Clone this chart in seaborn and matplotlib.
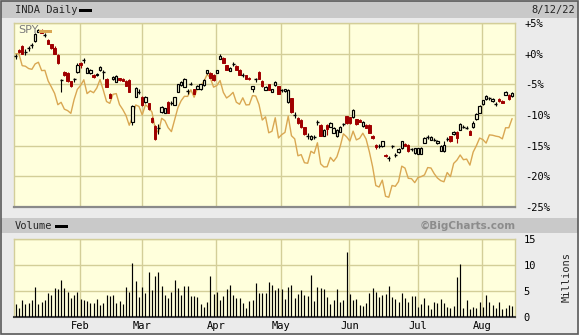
import matplotlib
matplotlib.use("Agg")
import matplotlib.pyplot as plt
import seaborn as sns
import pandas as pd
from matplotlib.patches import Rectangle

# ---------------- data (percent change vs first close) ----------------
inda_open = [-0.3, 0.6, 1.2, 0.3, 0.9, 1.4, 2.0, 3.6, 3.9, 3.1, 2.2, 1.5, 1.0, -0.2, -4.35, -3.0, -3.1, -4.5, -4.1, -3.0,
             -1.5, -1.1, -3.1, -3.2, -3.4, -3.5, -2.7, -3.0, -4.05, -6.5, -4.2, -4.6, -4.0, -4.05, -4.4, -4.3, -11.2, -7.0, -6.2,
             -7.0, -7.9, -8.1, -10.5, -11.8, -12.2, -9.5, -9.6, -7.8, -8.0, -8.3, -6.2, -5.1, -5.4, -6.1, -4.9, -5.8, -5.7, -5.8, -5.1, -3.2, -3.1, -3.4,
             -3.1, -0.8, -0.65, -1.9, -2.8, -1.7, -2.0, -2.6, -3.5, -3.5, -3.9, -5.7, -4.2, -3.0, -4.45, -5.95, -5.0, -6.2, -5.1, -5.3,
             -5.9, -6.1, -7.8, -7.3, -10.0, -10.5, -10.8, -12.0, -13.4, -13.9, -13.6, -11.1, -11.6, -13.35, -11.6, -11.9, -12.9, -13.5, -12.7, -11.5, -10.2,
             -10.4, -10.4, -10.7, -10.8, -11.8, -11.6, -11.6, -13.4, -14.9, -15.0, -15.1, -16.5, -17.0, -15.1, -16.5, -16.1, -15.4, -14.7, -14.85, -15.55, -16.2,
             -16.3, -16.3, -14.5, -13.6, -14.05, -14.05, -14.6, -15.8, -15.95, -13.9, -13.5, -13.1, -12.7, -12.4, -11.9, -12.05, -12.55, -12.0, -10.7, -9.6,
             -8.2, -7.45, -7.3, -7.7, -8.2, -7.35, -7.7, -6.75, -6.75, -6.9]
inda_high = [0.0, 0.8, 1.4, 0.7, 1.2, 1.7, 3.3, 4.1, 4.0, 3.4, 2.4, 1.6, 1.2, -0.1, -4.2, -2.8, -3.0, -4.4, -3.9, -1.6,
             -1.4, -0.7, -2.2, -2.5, -3.3, -3.2, -2.0, -2.7, -3.9, -6.4, -3.7, -3.5, -3.9, -4.0, -4.3, -4.2, -8.3, -5.5, -5.8,
             -6.9, -6.9, -8.0, -10.4, -11.6, -11.5, -8.5, -8.8, -7.7, -7.7, -7.0, -4.9, -4.5, -3.9, -5.8, -4.7, -5.7, -5.1, -4.9, -4.2, -2.6, -3.0, -3.3,
             -2.6, -0.1, -0.5, -1.8, -2.2, -1.4, -1.9, -2.5, -3.2, -3.4, -3.8, -5.2, -3.9, -2.9, -4.3, -5.3, -4.9, -5.7, -4.5, -5.2,
             -5.7, -5.7, -5.7, -7.2, -9.5, -10.4, -10.7, -11.9, -13.0, -13.2, -13.3, -10.8, -11.5, -12.3, -11.5, -11.2, -12.0, -12.3, -11.8, -11.3, -10.1,
             -10.3, -9.0, -10.6, -10.7, -11.0, -11.5, -11.5, -13.3, -14.8, -14.7, -14.2, -16.4, -16.7, -14.9, -16.2, -15.4, -14.2, -14.6, -14.7, -15.3, -15.3,
             -15.3, -15.2, -13.6, -13.3, -13.5, -13.8, -14.1, -14.9, -14.3, -13.6, -13.4, -12.6, -12.6, -11.3, -11.6, -11.8, -12.4, -10.9, -9.7, -8.4,
             -7.5, -6.8, -7.0, -7.3, -7.9, -7.2, -7.6, -6.1, -6.6, -6.3]
inda_low = [-0.9, 0.1, -0.1, -0.2, 0.5, 1.0, 1.9, 3.5, 3.3, 2.7, 1.5, 0.7, -0.1, -1.7, -6.2, -3.7, -4.6, -5.4, -4.6, -3.1,
            -2.4, -1.5, -3.2, -3.3, -3.9, -3.6, -2.8, -4.2, -5.5, -7.3, -4.3, -4.7, -4.4, -4.5, -5.3, -6.3, -11.6, -7.1, -6.6,
            -8.5, -8.0, -9.2, -11.3, -14.0, -13.1, -9.6, -9.7, -9.7, -8.3, -8.4, -6.3, -5.2, -5.5, -6.5, -5.1, -6.6, -5.8, -5.9, -5.2, -3.3, -4.0, -4.4,
            -3.2, -0.9, -1.6, -2.7, -2.9, -2.0, -2.7, -3.5, -3.8, -4.1, -4.3, -6.2, -4.6, -4.1, -5.4, -6.0, -6.0, -6.3, -5.2, -6.6,
            -6.3, -6.2, -8.1, -9.6, -10.5, -11.4, -12.1, -13.2, -13.9, -14.0, -13.9, -11.6, -13.5, -13.4, -13.2, -12.0, -13.0, -13.6, -12.8, -11.8, -11.4,
            -11.4, -10.5, -11.6, -11.2, -11.9, -12.2, -13.0, -13.9, -15.5, -15.3, -15.2, -16.9, -17.5, -15.4, -16.9, -16.2, -15.5, -15.1, -16.0, -15.8, -16.3,
            -16.4, -16.4, -14.6, -13.9, -14.1, -14.3, -14.7, -15.9, -16.0, -14.3, -14.4, -13.2, -14.6, -12.5, -12.2, -12.3, -13.3, -12.1, -10.8, -9.7,
            -8.3, -7.5, -7.6, -7.8, -8.5, -7.8, -8.1, -6.8, -7.5, -7.0]
inda_close = [-0.3, 0.3, 0.0, 0.3, 0.9, 1.4, 3.2, 3.9, 3.4, 3.1, 1.6, 0.9, 0.0, -1.6, -4.35, -3.5, -4.5, -5.3, -4.1, -1.8,
              -1.9, -1.1, -2.3, -2.6, -3.8, -3.3, -2.2, -3.0, -5.4, -7.2, -3.8, -3.6, -4.3, -4.4, -5.25, -6.2, -8.5, -5.6, -6.2,
              -8.3, -7.0, -9.1, -11.2, -13.9, -12.2, -8.65, -8.9, -9.6, -8.0, -7.1, -5.0, -4.6, -4.05, -6.1, -4.9, -6.5, -5.25, -5.0, -4.3, -2.7, -3.9, -4.3,
              -2.7, -0.3, -1.5, -2.6, -2.3, -1.7, -2.6, -3.4, -3.5, -4.05, -4.2, -5.3, -4.2, -4.05, -5.3, -5.4, -5.95, -5.8, -4.6, -6.5,
              -5.9, -5.8, -5.9, -9.5, -10.0, -11.35, -12.0, -13.1, -13.4, -13.35, -13.6, -11.1, -13.4, -12.4, -12.3, -11.35, -12.15, -12.4, -11.9, -11.5, -11.35,
              -11.35, -9.2, -11.5, -11.1, -11.1, -12.15, -12.9, -13.8, -15.2, -15.0, -14.3, -16.75, -17.0, -15.1, -16.5, -15.55, -14.3, -15.0, -15.95, -15.55, -15.4,
              -15.4, -15.3, -13.8, -13.6, -13.6, -14.05, -14.2, -15.0, -14.85, -13.9, -14.3, -12.7, -13.8, -11.45, -11.9, -12.05, -13.25, -11.25, -9.85, -8.5,
              -7.6, -6.9, -7.3, -7.45, -8.2, -7.7, -8.0, -6.2, -7.45, -6.4]
spy_pct = [0.0, -0.03, -1.95, -2.05, -2.43, -2.55, -1.67, -1.40, -2.76, -2.72, -4.44, -5.43, -6.48, -8.32, -7.93, -9.05, -9.28, -9.73, -7.49, -5.82,
           -5.18, -4.26, -6.51, -6.07, -6.37, -5.60, -4.22, -5.94, -7.80, -8.10, -6.62, -6.51, -8.30, -9.10, -10.08, -11.67, -10.34, -8.37, -8.60,
           -9.99, -8.33, -8.79, -9.53, -12.20, -12.87, -10.53, -10.93, -12.07, -12.71, -10.79, -8.81, -7.67, -6.95, -6.97, -5.89, -7.10, -5.70, -5.24, -4.56, -3.38, -3.98, -5.46,
           -5.19, -4.38, -6.31, -7.23, -6.84, -6.31, -7.91, -8.25, -7.20, -8.36, -8.32, -6.84, -6.91, -8.30, -10.82, -10.30, -12.90, -12.65, -10.45, -13.75,
           -13.20, -12.84, -10.18, -13.38, -13.89, -16.65, -16.46, -17.78, -17.87, -15.91, -16.25, -14.53, -17.97, -18.47, -18.44, -16.91, -17.55, -16.82, -15.16, -13.07, -13.56,
           -14.26, -12.63, -14.06, -13.80, -12.97, -13.92, -15.97, -18.40, -21.50, -21.74, -20.62, -23.25, -23.41, -21.49, -21.63, -20.86, -18.34, -18.66, -20.32, -20.38, -21.03,
           -20.19, -20.04, -19.77, -18.57, -18.64, -19.57, -20.28, -20.70, -20.89, -19.38, -20.05, -17.89, -17.36, -16.52, -17.29, -17.19, -18.17, -16.05, -15.00, -13.76,
           -14.01, -14.58, -13.24, -13.30, -13.45, -13.55, -13.89, -12.08, -12.08, -10.59]
volume_m = [2.5, 1.8, 3.3, 2.5, 2.7, 3.3, 5.8, 2.5, 2.9, 3.2, 4.7, 4.3, 5.6, 5.3, 7.2, 5.6, 4.9, 3.7, 4.3, 4.9,
            3.5, 3.3, 3.1, 2.7, 2.7, 3.5, 2.3, 2.7, 4.3, 4.1, 4.3, 2.7, 3.1, 2.5, 5.8, 4.9, 10.4, 6.9, 3.9,
            5.8, 4.7, 8.6, 5.1, 7.8, 8.6, 6.0, 4.3, 3.7, 4.9, 7.2, 5.5, 4.3, 6.0, 6.0, 4.1, 4.1, 3.9, 2.5, 2.0, 2.9, 7.8, 4.5,
            4.9, 3.3, 4.1, 5.3, 6.2, 4.3, 3.7, 3.7, 2.7, 1.8, 3.1, 3.3, 6.6, 4.7, 4.7, 4.7, 6.8, 6.2, 5.1, 5.6,
            5.3, 3.5, 5.8, 6.2, 3.7, 4.5, 5.1, 4.3, 4.1, 8.0, 3.1, 5.8, 5.5, 5.3, 3.9, 2.5, 3.3, 5.3, 2.9, 3.3, 12.5,
            4.5, 3.3, 3.5, 2.3, 2.1, 2.7, 4.7, 5.6, 4.9, 3.9, 4.3, 4.5, 6.0, 3.9, 3.5, 2.9, 4.7, 3.7, 2.9, 4.1, 4.1,
            1.9, 2.5, 3.7, 2.3, 1.6, 2.9, 2.7, 3.5, 2.7, 1.9, 1.8, 2.1, 7.6, 10.1, 1.8, 3.3, 1.6, 1.9, 1.8, 2.9,
            1.9, 4.3, 2.9, 2.3, 1.8, 2.9, 1.6, 1.8, 2.3, 2.1]
month_labels = ["Feb", "Mar", "Apr", "May", "Jun", "Jul", "Aug"]
month_start_idx = [20, 39, 62, 82, 103, 124, 144]
pct_ticks = [5, 0, -5, -10, -15, -20, -25]
pct_labels = ["+5%", "+0%", "-5%", "-10%", "-15%", "-20%", "-25%"]
vol_ticks = [0, 5, 10, 15]
vol_labels = ["0", "5", "10", "15"]

df = pd.DataFrame({"o": inda_open, "h": inda_high, "l": inda_low, "c": inda_close,
                   "spy": spy_pct, "vol": volume_m})
df["idx"] = range(len(df))

# ---------------- style ----------------
sns.set_style("white")
plt.rcParams["font.family"] = ["DejaVu Sans Mono"]
plt.rcParams["font.size"] = 7.5

BG = "#EBEBEB"
BAND = "#C9C9C9"
PLOT_BG = "#FFFFDC"
GRID = "#D3CE98"
RED = "#A00000"
SPY_C = "#D9A752"
W, H = 579, 335

def fx(x):
    return x / W

def fy(y):
    return 1 - y / H

fig = plt.figure(figsize=(W / 100, H / 100), dpi=100)
fig.patch.set_facecolor(BG)

# bands
fig.add_artist(Rectangle((fx(1), fy(18)), 577 / W, 17 / H, transform=fig.transFigure,
                         facecolor=BAND, edgecolor="none", zorder=0))
fig.add_artist(Rectangle((fx(1), fy(233)), 577 / W, 15 / H, transform=fig.transFigure,
                         facecolor=BAND, edgecolor="none", zorder=0))
fig.add_artist(Rectangle((0.001, 0.002), 0.997, 0.996, transform=fig.transFigure,
                         facecolor="none", edgecolor="#5A5A5A", lw=1.2, zorder=10))

ax = fig.add_axes([fx(14), fy(207), 501 / W, 184 / H])
axv = fig.add_axes([fx(14), fy(317), 501 / W, 78 / H])

xlim = (-0.52, 153.9)
for a in (ax, axv):
    a.set_facecolor(PLOT_BG)
    a.set_xlim(*xlim)
    a.set_axisbelow(True)
    a.grid(True, color=GRID, lw=1.0)
    a.set_xticks([m - 0.15 for m in month_start_idx])
    for s in ("top", "left", "right"):
        a.spines[s].set_color(GRID)
        a.spines[s].set_linewidth(1.0)

# ---- price panel ----
ax.set_ylim(-25, 5)
ax.set_yticks(pct_ticks)
ax.set_yticklabels(pct_labels)
ax.yaxis.set_ticks_position("right")
ax.tick_params(axis="y", length=0, pad=7, labelsize=7.5, colors="black")
ax.tick_params(axis="x", length=0, labelbottom=False)
ax.spines["bottom"].set_color("#8A8A8A")
ax.spines["bottom"].set_linewidth(1.6)

sns.lineplot(data=df, x="idx", y="spy", ax=ax, color=SPY_C, lw=1.0, zorder=2)
ax.set_xlabel("")
ax.set_ylabel("")

bw = 0.74
for r in df.itertuples():
    if r.c > r.o:
        ax.vlines(r.idx, r.l, r.h, color="black", lw=0.8, zorder=3)
        ax.add_patch(Rectangle((r.idx - bw / 2, r.o), bw, r.c - r.o, facecolor=PLOT_BG,
                               edgecolor="black", lw=0.85, zorder=4))
    elif r.c < r.o:
        ax.vlines(r.idx, r.l, r.h, color=RED, lw=0.8, zorder=3)
        ax.add_patch(Rectangle((r.idx - bw / 2, r.c), bw, r.o - r.c, facecolor=RED,
                               edgecolor=RED, lw=0.7, zorder=4))
    else:
        ax.vlines(r.idx, r.l, r.h, color="black", lw=0.8, zorder=3)
        ax.hlines(r.o, r.idx - bw / 2 - 0.1, r.idx + bw / 2 + 0.1, color="black", lw=1.0, zorder=4)

# SPY legend inside plot
ax.text(fx(18), fy(30), "SPY", transform=fig.transFigure, fontsize=8, color="#7A7A7A",
        family="DejaVu Sans", ha="left", va="center", zorder=6)
fig.add_artist(Rectangle((fx(39), fy(32.5)), 13 / W, 3 / H, transform=fig.transFigure,
                         facecolor=SPY_C, edgecolor="none", zorder=6))

# ---- volume panel ----
axv.set_ylim(0, 15)
axv.set_yticks(vol_ticks)
axv.set_yticklabels(vol_labels)
axv.yaxis.set_ticks_position("right")
axv.tick_params(axis="y", length=0, pad=6, labelsize=7.5, colors="black")
axv.set_xticklabels(month_labels)
axv.tick_params(axis="x", length=0, pad=3, labelsize=7.5, colors="black")
axv.spines["bottom"].set_color("#404040")
axv.spines["bottom"].set_linewidth(1.5)
axv.vlines(df["idx"], 0, df["vol"], color="black", lw=0.85, zorder=3)

# ---- header texts ----
fig.text(fx(15), fy(10), "INDA Daily", ha="left", va="center", fontsize=7.5)
fig.add_artist(Rectangle((fx(79), fy(11.5)), 13 / W, 3 / H, transform=fig.transFigure,
                         facecolor="black", edgecolor="none", zorder=5))
fig.text(fx(575), fy(10), "8/12/22", ha="right", va="center", fontsize=7.5)
fig.text(fx(15), fy(226), "Volume", ha="left", va="center", fontsize=7.5)
fig.add_artist(Rectangle((fx(55), fy(227.5)), 13 / W, 3 / H, transform=fig.transFigure,
                         facecolor="black", edgecolor="none", zorder=5))
fig.text(fx(516), fy(226), "\u00a9BigCharts.com", ha="right", va="center", fontsize=7.5,
         family="DejaVu Sans", weight="bold", color="#8C8C8C")
fig.text(fx(567), fy(277), "Millions", rotation=90, ha="center", va="center", fontsize=7.5)

fig.savefig("out.png", dpi=100, facecolor=BG)
